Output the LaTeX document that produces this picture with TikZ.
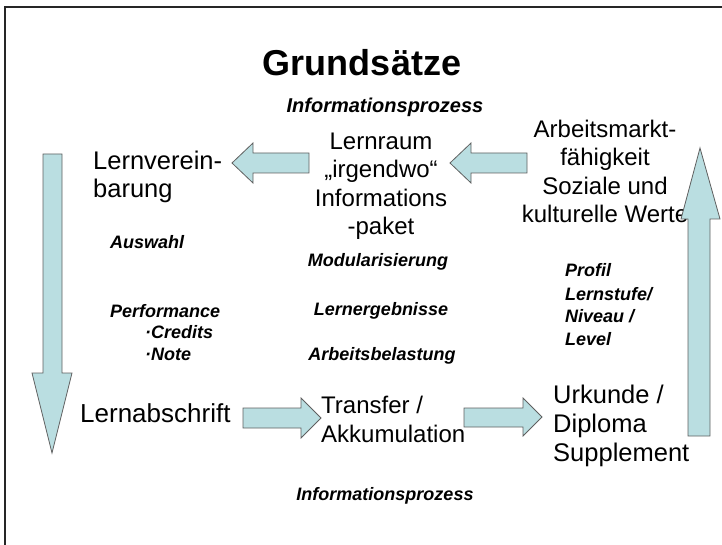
\documentclass[tikz,border=0pt]{standalone}
\usepackage{fontspec}
\setmainfont{Liberation Sans}
\definecolor{arrowfill}{RGB}{186,222,225}
\definecolor{arrowline}{RGB}{95,95,95}
\tikzset{
  maintext/.style={inner sep=0pt, font=\fontsize{24}{28.5}\selectfont},
  notetext/.style={inner sep=0pt, font=\fontsize{18}{22.5}\selectfont\bfseries\itshape},
  blockarrow/.style={fill=arrowfill, draw=arrowline, line width=0.8pt, line join=miter}
}
\begin{document}
\begin{tikzpicture}[x=1pt,y=-1pt]
    \useasboundingbox (0,0) rectangle (722,545);
    \draw[line width=1.5pt, black!85] (5,545) -- (5,7) -- (722,7);
    % headings
    \node[inner sep=0pt, font=\fontsize{36}{40}\selectfont\bfseries] (title) at (362,63) {Grundsätze};
    \node[notetext, font=\fontsize{20}{24}\selectfont\bfseries\itshape] (proztop) at (385,107) {Informationsprozess};
    \node[notetext] (prozbot) at (385,496) {Informationsprozess};
    % centre column
    \node[maintext, align=center] (lernraum) at (381,186) {Lernraum\\„irgendwo“\\Informations\\-paket};
    \node[notetext] (modul) at (378,262) {Modularisierung};
    \node[notetext] (ergeb) at (381,311) {Lernergebnisse};
    \node[notetext] (belast) at (382,356) {Arbeitsbelastung};
    \node[maintext, align=left, anchor=west] (transfer) at (321,419.5) {Transfer /\\Akkumulation};
    % left column
    \node[maintext, font=\fontsize{25.5}{28}\selectfont, align=left, anchor=west] (vereinb) at (93,177) {Lernverein-\\barung};
    \node[notetext, anchor=west] (auswahl) at (110,242) {Auswahl};
    \node[notetext, anchor=west] (perform) at (110,311) {Performance};
    \node[notetext, anchor=west] (credits) at (145,332) {·Credits};
    \node[notetext, anchor=west] (note) at (145,354) {·Note};
    \node[maintext, font=\fontsize{26}{28}\selectfont, anchor=west] (abschrift) at (80,413) {Lernabschrift};
    % right column
    \node[maintext, align=center] (markt) at (605,171.5) {Arbeitsmarkt-\\fähigkeit\\Soziale und\\kulturelle Werte};
    \node[notetext, anchor=west] (profil) at (565,270) {Profil};
    \node[notetext, align=left, anchor=west] (stufe) at (565,316.5) {Lernstufe/\\Niveau /\\Level};
    \node[maintext, font=\fontsize{25.5}{29}\selectfont, align=left, anchor=west] (urkunde) at (553,426) {Urkunde /\\Diploma\\Supplement};
    % block arrows
    \draw[blockarrow] (309,153) -- (253,153) -- (253,143) -- (232,163) -- (253,183) -- (253,173) -- (309,173) -- cycle;
    \draw[blockarrow] (527,153) -- (471,153) -- (471,143) -- (450,163) -- (471,183) -- (471,173) -- (527,173) -- cycle;
    \draw[blockarrow] (43,154) -- (62,154) -- (62,373) -- (72,373) -- (52,453) -- (32,373) -- (43,373) -- cycle;
    \draw[blockarrow] (243,408) -- (301,408) -- (301,398) -- (321,418) -- (301,438) -- (301,428) -- (243,428) -- cycle;
    \draw[blockarrow] (464,408) -- (523,408) -- (523,398) -- (542,417) -- (523,436) -- (523,427) -- (464,427) -- cycle;
    \draw[blockarrow] (688,436) -- (688,219) -- (681,219) -- (700,148) -- (720,219) -- (710,219) -- (710,436) -- cycle;
\end{tikzpicture}
\end{document}
